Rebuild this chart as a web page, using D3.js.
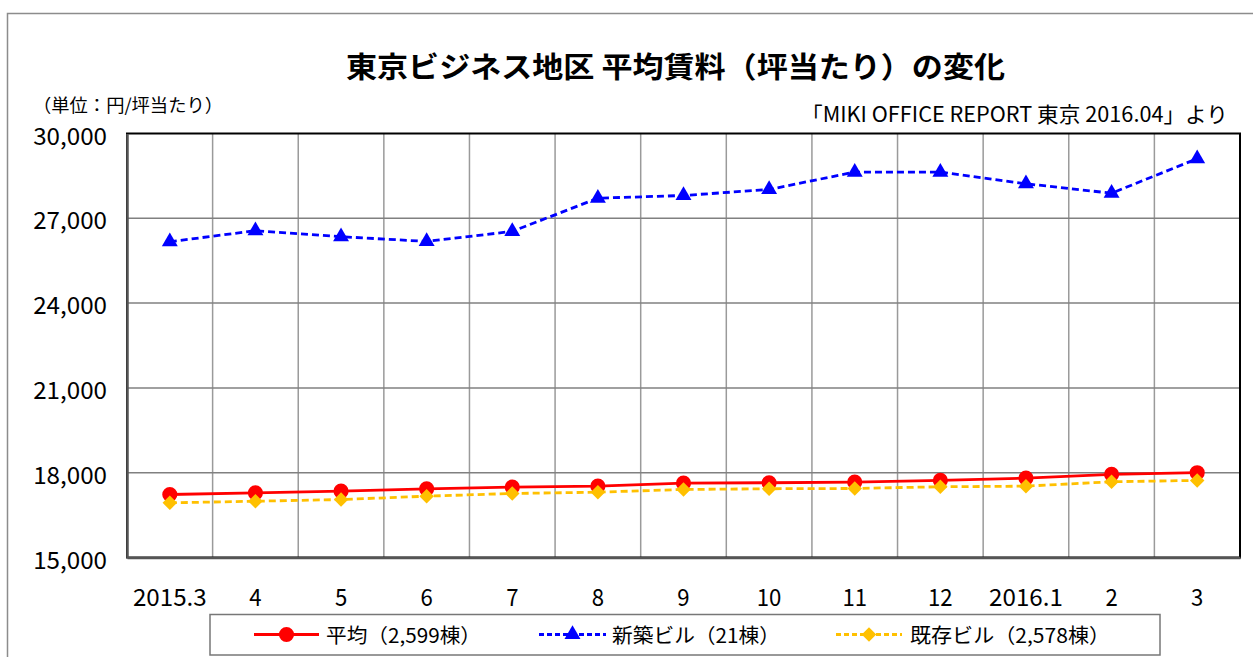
<!DOCTYPE html>
<html>
<head>
<meta charset="utf-8">
<script src="https://cdnjs.cloudflare.com/ajax/libs/d3/7.9.0/d3.min.js"></script>
<style>
  body { margin: 0; background: #fff; }
  text { font-family: "Noto Sans CJK JP", "DejaVu Sans", sans-serif; fill: #000; }
</style>
</head>
<body>
<script>
// months (2015.3 - 2016.3)
const categories = ["2015.3", "4", "5", "6", "7", "8", "9", "10", "11", "12", "2016.1", "2", "3"];
// rent, yen per tsubo
const avgRent      = [17229, 17289, 17346, 17431, 17488, 17524, 17630, 17645, 17666, 17727, 17808, 17940, 18000];
const newBldg      = [26171, 26562, 26349, 26182, 26537, 27711, 27807, 28020, 28635, 28635, 28222, 27888, 29111];
const existingBldg = [16934, 16991, 17051, 17169, 17265, 17311, 17407, 17432, 17442, 17503, 17524, 17680, 17727];
const yTicks = [15000, 18000, 21000, 24000, 27000, 30000];
const seriesNames = ["平均（2,599棟）", "新築ビル（21棟）", "既存ビル（2,578棟）"];

const width = 1253, height = 657;
const plot = { left: 127, right: 1240, top: 133.5, bottom: 557.5 };

const svg = d3.select("body").append("svg")
  .attr("width", width)
  .attr("height", height);

// outer frame (only top + left visible)
svg.append("rect")
  .attr("x", 7.5).attr("y", 13.5)
  .attr("width", 1300).attr("height", 700)
  .attr("fill", "none").attr("stroke", "#8c8c8c").attr("stroke-width", 1.5);

const x = d3.scaleBand().domain(categories).range([plot.left, plot.right]);
const y = d3.scaleLinear().domain([15000, 30000]).range([plot.bottom, plot.top]);
const cx = d => x(d) + x.bandwidth() / 2;

// half-width chars ~12.3px like the original gothic font
const halfW = 12.3;

// vertical grid at category boundaries
svg.append("g").selectAll("line")
  .data(categories.slice(1))
  .join("line")
  .attr("x1", d => x(d)).attr("x2", d => x(d))
  .attr("y1", plot.top).attr("y2", plot.bottom)
  .attr("stroke", "#9a9a9a").attr("stroke-width", 1.5);

// horizontal grid
svg.append("g").selectAll("line")
  .data(yTicks.slice(1, -1))
  .join("line")
  .attr("x1", plot.left).attr("x2", plot.right)
  .attr("y1", d => y(d)).attr("y2", d => y(d))
  .attr("stroke", "#808080").attr("stroke-width", 1.5);

// plot border
svg.append("rect")
  .attr("x", plot.left).attr("y", plot.top)
  .attr("width", plot.right - plot.left).attr("height", plot.bottom - plot.top)
  .attr("fill", "none").attr("stroke", "#000").attr("stroke-width", 2);

// y axis
const yAxis = svg.append("g")
  .attr("transform", `translate(${plot.left},0)`)
  .call(d3.axisLeft(y).tickValues(yTicks).tickSize(0).tickFormat(d3.format(",")));
yAxis.select(".domain").attr("stroke", "#555").attr("stroke-width", 2.5);
yAxis.selectAll("text")
  .attr("x", -20).attr("dy", null)
  .attr("dominant-baseline", "central")
  .style("font-size", "24px")
  .attr("textLength", d => d3.format(",")(d).length * halfW)
  .attr("lengthAdjust", "spacingAndGlyphs");

// x axis
const xAxis = svg.append("g")
  .attr("transform", `translate(0,${plot.bottom})`)
  .call(d3.axisBottom(x).tickSize(0));
xAxis.select(".domain").attr("stroke", "#555").attr("stroke-width", 2.5);
xAxis.selectAll("text")
  .attr("y", 38).attr("dy", null)
  .attr("dominant-baseline", "central")
  .style("font-size", "24px")
  .attr("textLength", d => d.length * halfW)
  .attr("lengthAdjust", "spacingAndGlyphs");

// series
const series = [
  { name: seriesNames[0], values: avgRent, color: "#ff0000", dash: null, symbol: d3.symbolCircle, size: 180, rot: 0 },
  { name: seriesNames[1], values: newBldg, color: "#0000ff", dash: "7,4", symbol: d3.symbolTriangle, size: 110, rot: 0 },
  { name: seriesNames[2], values: existingBldg, color: "#ffc000", dash: "7,4", symbol: d3.symbolSquare, size: 105, rot: 45 }
];

const line = d3.line().x((d, i) => cx(categories[i])).y(d => y(d));

series.forEach(s => {
  const g = svg.append("g");
  g.append("path")
    .datum(s.values)
    .attr("d", line)
    .attr("fill", "none")
    .attr("stroke", s.color)
    .attr("stroke-width", 2.8)
    .attr("stroke-dasharray", s.dash);
  g.selectAll("path.pt")
    .data(s.values)
    .join("path")
    .attr("class", "pt")
    .attr("d", d3.symbol().type(s.symbol).size(s.size))
    .attr("transform", (d, i) => `translate(${cx(categories[i])},${y(d)}) rotate(${s.rot})`)
    .attr("fill", s.color);
});

// titles
svg.append("text")
  .attr("x", 675.5).attr("y", 65)
  .attr("text-anchor", "middle").attr("dominant-baseline", "central")
  .style("font-size", "29px").style("font-weight", "bold")
  .attr("textLength", 659).attr("lengthAdjust", "spacingAndGlyphs")
  .text("東京ビジネス地区 平均賃料（坪当たり）の変化");

svg.append("text")
  .attr("x", 33).attr("y", 104)
  .attr("dominant-baseline", "central")
  .style("font-size", "18px")
  .attr("textLength", 190).attr("lengthAdjust", "spacingAndGlyphs")
  .text("（単位：円/坪当たり）");

svg.append("text")
  .attr("x", 1228).attr("y", 113)
  .attr("text-anchor", "end").attr("dominant-baseline", "central")
  .style("font-size", "21px")
  .attr("textLength", 427).attr("lengthAdjust", "spacingAndGlyphs")
  .text("「MIKI OFFICE REPORT 東京 2016.04」より");

// legend
const legend = svg.append("g");
legend.append("rect")
  .attr("x", 210).attr("y", 614.5)
  .attr("width", 950).attr("height", 40.5)
  .attr("fill", "#fff").attr("stroke", "#777").attr("stroke-width", 1.5);

const legendPos = [
  { x0: 254, x1: 319, tx: 326, tw: 155 },
  { x0: 539, x1: 606, tx: 612, tw: 168 },
  { x0: 836, x1: 902, tx: 910, tw: 200 }
];
const ly = 634.5;
series.forEach((s, i) => {
  const p = legendPos[i];
  legend.append("line")
    .attr("x1", p.x0).attr("x2", p.x1)
    .attr("y1", ly).attr("y2", ly)
    .attr("stroke", s.color).attr("stroke-width", 2.8)
    .attr("stroke-dasharray", s.dash ? "5,3" : null);
  legend.append("path")
    .attr("d", d3.symbol().type(s.symbol).size(s.size))
    .attr("transform", `translate(${(p.x0 + p.x1) / 2},${ly}) rotate(${s.rot})`)
    .attr("fill", s.color);
  legend.append("text")
    .attr("x", p.tx).attr("y", ly)
    .attr("dominant-baseline", "central")
    .style("font-size", "20px")
    .attr("textLength", p.tw).attr("lengthAdjust", "spacingAndGlyphs")
    .text(s.name);
});
</script>
</body>
</html>
